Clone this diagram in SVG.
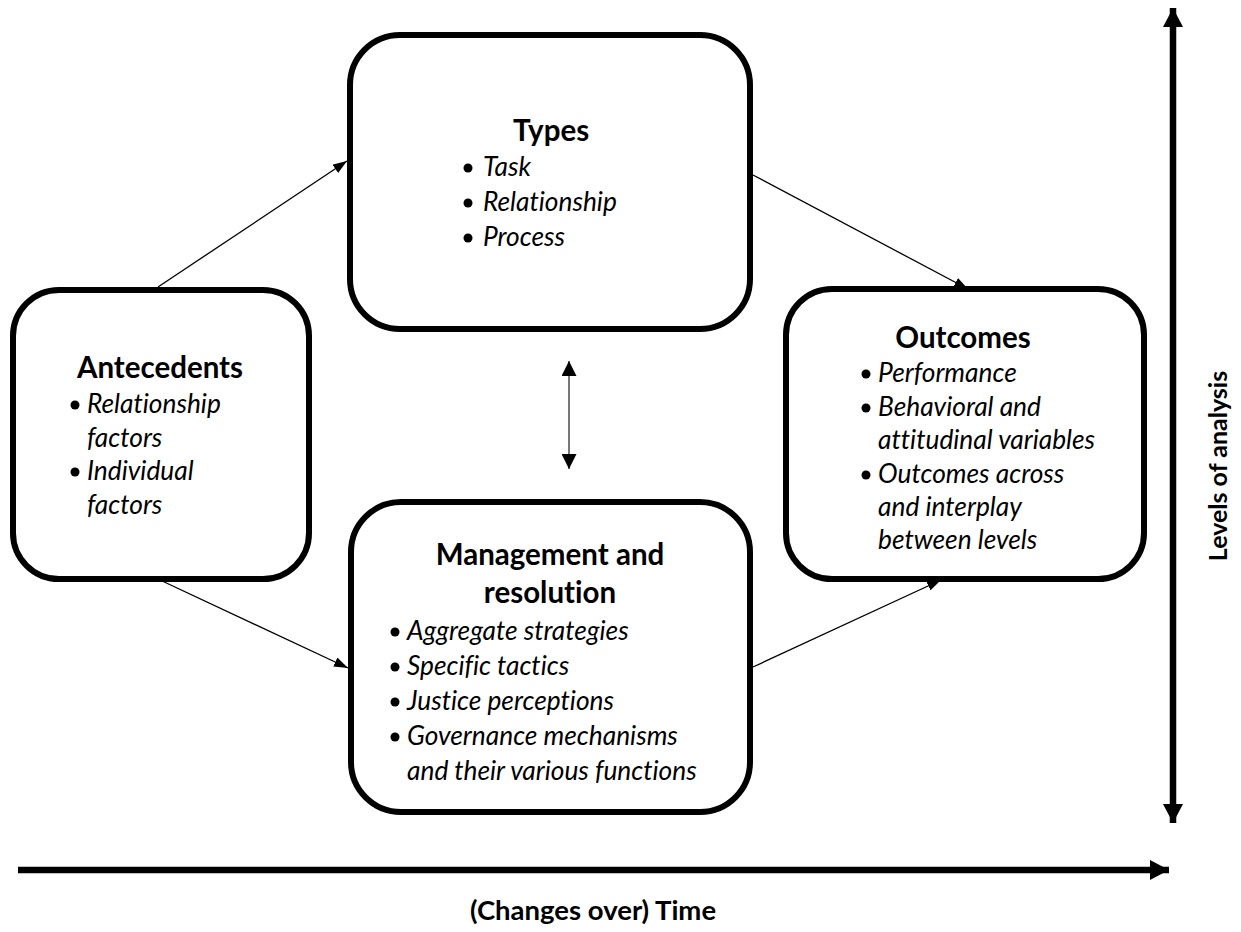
<svg xmlns="http://www.w3.org/2000/svg" width="1241" height="932" viewBox="0 0 1241 932">
  <defs>
    <style>
      .box { fill: #fff; stroke: #000; stroke-width: 6; }
      text { font-variant-ligatures: none; }
      .head { font-family: Lato, "Liberation Sans", sans-serif; font-weight: bold; font-size: 29.5px; fill: #000; text-anchor: middle; }
      .item { font-family: Lato, "Liberation Sans", sans-serif; font-style: italic; font-size: 26.3px; fill: #000; }
      .axis-label { font-family: Lato, "Liberation Sans", sans-serif; font-weight: bold; font-size: 25px; fill: #000; text-anchor: middle; }
      .link { stroke: #000; stroke-width: 1.3; fill: none; marker-end: url(#tip); }
      .axis { stroke: #000; stroke-width: 6.5; fill: none; }
    </style>
    <marker id="tip" viewBox="0 0 14 10" refX="14" refY="5" markerWidth="14" markerHeight="10" markerUnits="userSpaceOnUse" orient="auto">
      <path d="M0,0 L14,5 L0,10 Z" fill="#000"/>
    </marker>
    <marker id="tipBoth" viewBox="0 0 15 15" refX="15" refY="7.5" markerWidth="15" markerHeight="15" markerUnits="userSpaceOnUse" orient="auto-start-reverse">
      <path d="M0,0 L15,7.5 L0,15 Z" fill="#000"/>
    </marker>
    <marker id="bigTip" viewBox="0 0 19 20" refX="19" refY="10" markerWidth="19" markerHeight="20" markerUnits="userSpaceOnUse" orient="auto-start-reverse">
      <path d="M0,0 L19,10 L0,20 Z" fill="#000"/>
    </marker>
    <circle id="dot" r="4.5" fill="#000"/>
  </defs>

  <rect width="1241" height="932" fill="#fff"/>

  <!-- connectors between the four boxes -->
  <g id="connectors">
    <line class="link" x1="158" y1="287" x2="347" y2="161"/>
    <line class="link" x1="753" y1="175" x2="968" y2="289"/>
    <line class="link" x1="160" y1="580" x2="348" y2="668"/>
    <line class="link" x1="753" y1="667" x2="941" y2="580"/>
    <line x1="569" y1="361" x2="569" y2="469" stroke="#555" stroke-width="1.6" marker-start="url(#tipBoth)" marker-end="url(#tipBoth)"/>
  </g>

  <!-- Types -->
  <g id="types">
    <rect class="box" x="350" y="35" width="400" height="294" rx="50" ry="50"/>
    <text class="head" x="551" y="141">Types</text>
    <use href="#dot" x="468" y="168"/>
    <text class="item" x="483" y="176">Task</text>
    <use href="#dot" x="468" y="203"/>
    <text class="item" x="483" y="211">Relationship</text>
    <use href="#dot" x="468" y="238"/>
    <text class="item" x="483" y="246">Process</text>
  </g>

  <!-- Antecedents -->
  <g id="antecedents">
    <rect class="box" x="13" y="290" width="296" height="289" rx="46" ry="46"/>
    <text class="head" x="160" y="378">Antecedents</text>
    <use href="#dot" x="75" y="405"/>
    <text class="item" x="87" y="413">Relationship</text>
    <text class="item" x="87" y="446.5">factors</text>
    <use href="#dot" x="75" y="472"/>
    <text class="item" x="87" y="480">Individual</text>
    <text class="item" x="87" y="513.5">factors</text>
  </g>

  <!-- Outcomes -->
  <g id="outcomes">
    <rect class="box" x="786" y="289" width="358" height="290" rx="46" ry="46"/>
    <text class="head" x="963" y="348">Outcomes</text>
    <use href="#dot" x="866" y="374"/>
    <text class="item" x="878" y="382">Performance</text>
    <use href="#dot" x="866" y="408"/>
    <text class="item" x="878" y="416">Behavioral and</text>
    <text class="item" x="878" y="449">attitudinal variables</text>
    <use href="#dot" x="866" y="475"/>
    <text class="item" x="878" y="483">Outcomes across</text>
    <text class="item" x="878" y="516">and interplay</text>
    <text class="item" x="878" y="549">between levels</text>
  </g>

  <!-- Management and resolution -->
  <g id="management">
    <rect class="box" x="351" y="502" width="399" height="310" rx="50" ry="50"/>
    <text class="head" x="550" y="565">Management and</text>
    <text class="head" x="550" y="603">resolution</text>
    <use href="#dot" x="395" y="632"/>
    <text class="item" x="407" y="640">Aggregate strategies</text>
    <use href="#dot" x="395" y="667"/>
    <text class="item" x="407" y="675">Specific tactics</text>
    <use href="#dot" x="395" y="702"/>
    <text class="item" x="407" y="710">Justice perceptions</text>
    <use href="#dot" x="395" y="737"/>
    <text class="item" x="407" y="745">Governance mechanisms</text>
    <text class="item" x="407" y="780">and their various functions</text>
  </g>

  <!-- axes -->
  <g id="levels-axis">
    <line class="axis" x1="1173" y1="8" x2="1173" y2="823" marker-start="url(#bigTip)" marker-end="url(#bigTip)"/>
    <text class="axis-label" transform="translate(1227,466) rotate(-90)">Levels of analysis</text>
  </g>
  <g id="time-axis">
    <line class="axis" x1="18" y1="870" x2="1169" y2="870" marker-end="url(#bigTip)"/>
    <text class="axis-label" x="593" y="920" style="font-size:27.5px">(Changes over) Time</text>
  </g>
</svg>
